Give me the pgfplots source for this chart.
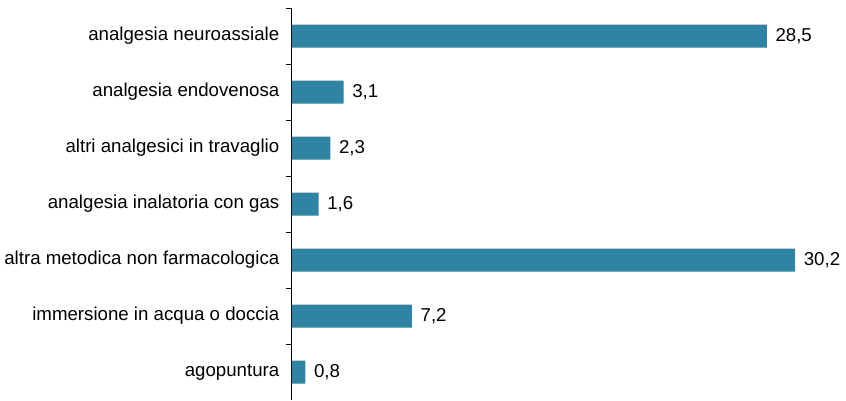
\documentclass[border=0pt]{standalone}
\usepackage{pgfplots}
\pgfplotsset{compat=1.18}
\usepackage{fontspec}
\setmainfont{Liberation Sans}
\definecolor{barblue}{RGB}{46,132,162}
\begin{document}
\begin{tikzpicture}
\begin{axis}[
    scale only axis,
    width=413.6pt, height=294pt,
    xbar, bar width=17.25pt,
    xmin=0, xmax=33.1,
    ymin=-0.5, ymax=6.5,
    y dir=reverse,
    axis x line=none,
    axis y line*=left,
    ytick={0,1,2,3,4,5,6},
    yticklabels={analgesia neuroassiale, analgesia endovenosa, altri analgesici in travaglio, analgesia inalatoria con gas, altra metodica non farmacologica, immersione in acqua o doccia, agopuntura},
    major tick length=0pt,
    minor ytick={-0.5,0.5,1.5,2.5,3.5,4.5,5.5},
    minor tick length=4.5pt,
    tick align=outside,
    tick style={black, line width=0.75pt},
    axis line style={black, line width=0.75pt},
    y axis line style={-},
    font=\fontsize{14}{16}\selectfont,
    yticklabel style={font=\fontsize{14}{16}\selectfont, xshift=-6pt},
    nodes near coords,
    nodes near coords style={font=\fontsize{14}{16}\selectfont, anchor=west, xshift=3pt, black},
    /pgf/number format/.cd, use comma, fixed, fixed zerofill, precision=1, assume math mode=true,
]
\addplot[fill=barblue, draw=none] coordinates {
    (28.5,0) (3.1,1) (2.3,2) (1.6,3) (30.2,4) (7.2,5) (0.8,6)
};
\end{axis}
\pgfresetboundingbox
\path[use as bounding box] ([xshift=-219pt]current axis.south west) rectangle ([xshift=415.5pt, yshift=6pt]current axis.north west);
\end{tikzpicture}
\end{document}
